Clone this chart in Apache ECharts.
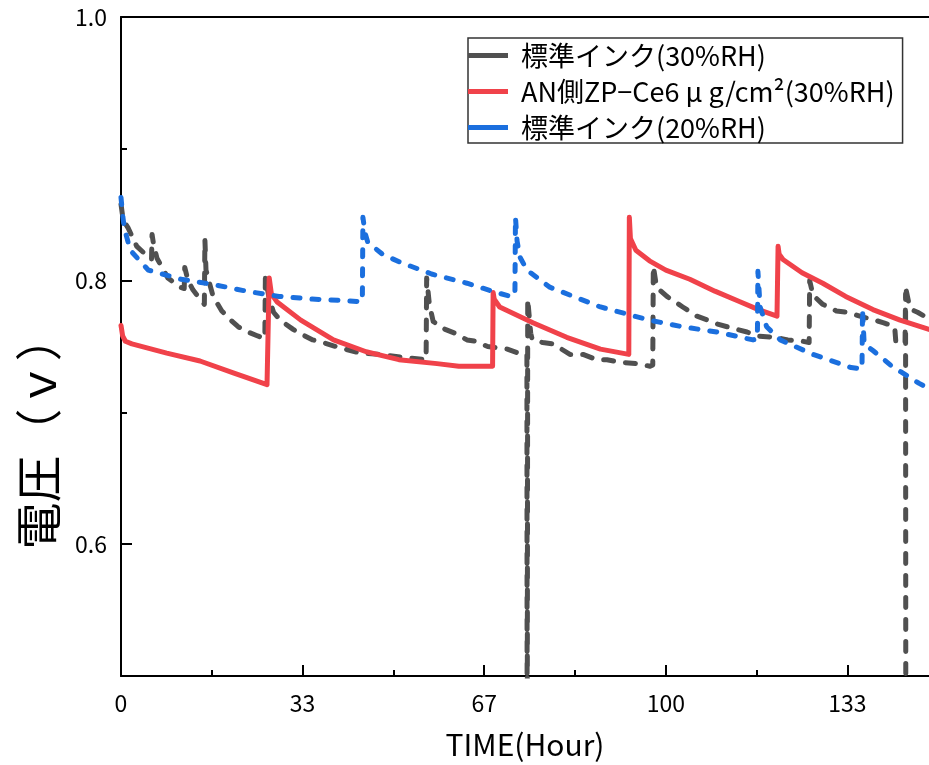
<!DOCTYPE html>
<html><head><meta charset="utf-8">
<script src="https://cdn.jsdelivr.net/npm/echarts@6/dist/echarts.min.js"></script>
<style>html,body{margin:0;padding:0;background:#fff}#c{width:929px;height:765px}</style>
</head><body><div id="c"></div>
<script>
const FONT = '"Noto Sans CJK JP", "Noto Sans", sans-serif';
const seriesNames = ['標準インク(30%RH)', 'AN側ZP−Ce6 μ g/cm²(30%RH)', '標準インク(20%RH)'];
const xTickValues = [0, 100/3, 200/3, 100, 400/3];
const xMinorTickValues = [50/3, 50, 250/3, 350/3];
const yTickValues = [0.6, 0.8, 1.0];
const yMinorTickValues = [0.7, 0.9];
const xTitle = 'TIME(Hour)';
const yTitle = '電圧（ｖ）';

// [hours, volts]
const grayData = [
 [0,0.858],[0.4,0.846],[1.3,0.840],[2.9,0.826],[5.0,0.818],[5.6,0.816],[5.7,0.835],[6.0,0.827],[6.6,0.817],
 [8.6,0.802],[10.8,0.795],[11.6,0.794],[11.7,0.810],[12.3,0.800],[13.2,0.793],[14.5,0.786],[15.3,0.782],
 [15.4,0.831],[15.6,0.808],[16.9,0.788],[18.5,0.777],[20.4,0.769],[21.5,0.765],[23.3,0.761],[25.1,0.758],
 [26.4,0.756],[26.5,0.803],[27.2,0.786],[28,0.776],[29.2,0.770],[31.6,0.763],[32.8,0.760],[35.2,0.755],
 [37.1,0.753],[40.2,0.749],[43.9,0.745],[47.5,0.744],[51.2,0.742],[56.0,0.740],[56.1,0.802],[56.6,0.782],
 [57.3,0.769],[59.5,0.763],[61.3,0.760],[63.5,0.755],[65.0,0.754],[67.3,0.750],[70.9,0.748],[73.6,0.744],
 [74.5,0.744],[74.55,0.40],[74.65,0.786],[75.2,0.760],[75.5,0.755],[77.4,0.753],[79.3,0.752],[82.4,0.744],
 [84.8,0.744],[87.3,0.740],[89.2,0.740],[91.6,0.738],[94.8,0.737],[97.1,0.735],[97.6,0.736],[97.7,0.811],
 [98.3,0.795],[100.2,0.788],[103.1,0.780],[105.7,0.773],[108.4,0.769],[109.5,0.767],[112.1,0.764],
 [114.9,0.761],[116.7,0.758],[120.0,0.757],[122.4,0.755],[125.1,0.754],[126.3,0.753],[126.4,0.800],
 [127.0,0.789],[128.8,0.782],[131.3,0.777],[133.3,0.776],[135.6,0.773],[137.5,0.771],[140.0,0.768],
 [142.0,0.765],[142.2,0.754],[143.9,0.752],[144.0,0.790],[144.05,0.40],[144.1,null],[144.15,0.792],
 [144.6,0.783],[145.1,0.778],[146.2,0.776],[148.3,0.771]
];
const redData = [
 [0,0.766],[0.3,0.758],[0.8,0.754],[2,0.752],[8.4,0.745],[14.5,0.739],[20.6,0.730],[26.8,0.721],[27.1,0.720],
 [27.2,0.802],[27.6,0.790],[28.6,0.784],[33,0.770],[39,0.755],[45,0.746],[51,0.740],[58,0.737],[62,0.735],
 [68.2,0.735],[68.3,0.791],[68.5,0.786],[69.5,0.780],[75.6,0.768],[81.8,0.757],[88,0.748],[93.2,0.744],
 [93.3,0.848],[93.5,0.832],[94.5,0.823],[97,0.815],[100,0.808],[104.4,0.801],[109,0.792],[113.6,0.784],
 [117,0.778],[120.4,0.773],[120.6,0.826],[120.8,0.820],[121.5,0.816],[125,0.806],[128.8,0.798],[133,0.788],
 [138,0.778],[143,0.770],[148.3,0.763]
];
const blueData = [
 [0,0.863],[0.3,0.850],[0.6,0.840],[1.7,0.823],[5,0.808],[11,0.801],[17,0.797],[23,0.792],[29,0.788],
 [35,0.786],[40,0.785],[44.2,0.784],[44.3,0.786],[44.4,0.848],[44.8,0.836],[45.3,0.829],[48,0.820],
 [51.2,0.814],[57,0.805],[63.5,0.798],[68.9,0.791],[71.5,0.788],[72.3,0.789],[72.4,0.848],[72.7,0.830],
 [73.2,0.818],[74.5,0.808],[78.7,0.795],[88,0.780],[97,0.770],[103,0.765],[109.4,0.761],[116.0,0.755],
 [116.8,0.756],[116.9,0.807],[117.3,0.780],[118.5,0.765],[121,0.755],[127,0.744],[134,0.734],[136.0,0.733],
 [136.1,0.778],[136.4,0.752],[138,0.747],[141.5,0.735],[146.5,0.722],[148.3,0.718]
];

const X_MAX = 148.3;
const chart = echarts.init(document.getElementById('c'), null, {renderer: 'canvas'});
const axisCommon = {type: 'value', min: 0, max: X_MAX, splitLine: {show: false}};
chart.setOption({
  animation: false,
  backgroundColor: '#fff',
  grid: {left: 121, right: 0, top: 17, bottom: 88, containLabel: false},
  textStyle: {fontFamily: FONT},
  legend: {
    orient: 'vertical', left: 468, top: 38,
    padding: [4, 8, 2, 0], itemGap: 9, itemWidth: 40, itemHeight: 5,
    icon: 'rect',
    borderColor: '#333', borderWidth: 1.5,
    textStyle: {fontFamily: FONT, fontSize: 27, color: '#000', padding: [0, 0, 0, 8]},
    data: seriesNames
  },
  xAxis: [
    Object.assign({}, axisCommon, {
      position: 'bottom',
      axisLine: {lineStyle: {color: '#000', width: 2}},
      axisTick: {inside: true, length: 11, lineStyle: {color: '#000', width: 2}, customValues: xTickValues},
      axisLabel: {customValues: xTickValues, formatter: v => String(Math.round(v)), margin: 16,
                  fontSize: 23, color: '#000', fontFamily: FONT},
      name: xTitle, nameLocation: 'middle', nameGap: 54,
      nameTextStyle: {fontSize: 30, color: '#000', fontFamily: FONT}
    }),
    Object.assign({}, axisCommon, {
      position: 'bottom',
      axisLine: {show: false},
      axisTick: {inside: true, length: 6, lineStyle: {color: '#000', width: 2}, customValues: xMinorTickValues},
      axisLabel: {show: false}
    }),
    Object.assign({}, axisCommon, {
      position: 'top',
      axisLine: {lineStyle: {color: '#000', width: 2}},
      axisTick: {show: false}, axisLabel: {show: false}
    })
  ],
  yAxis: [
    {
      type: 'value', min: 0.5, max: 1.0, position: 'left', splitLine: {show: false},
      axisLine: {show: true, lineStyle: {color: '#000', width: 2}},
      axisTick: {show: true, inside: true, length: 11, lineStyle: {color: '#000', width: 2}, customValues: yTickValues},
      axisLabel: {customValues: yTickValues, formatter: v => v.toFixed(1), margin: 14,
                  fontSize: 23, color: '#000', fontFamily: FONT}
    },
    {
      type: 'value', min: 0.5, max: 1.0, position: 'left', splitLine: {show: false},
      axisLine: {show: false},
      axisTick: {show: true, inside: true, length: 6, lineStyle: {color: '#000', width: 2}, customValues: yMinorTickValues},
      axisLabel: {show: false}
    }
  ],
  graphic: [{
    type: 'text', x: 38, y: 432, rotation: Math.PI / 2,
    style: {text: yTitle, fontSize: 47, fontFamily: FONT, fill: '#000', align: 'center', verticalAlign: 'middle'}
  }],
  series: [
    {name: seriesNames[0], type: 'line', data: grayData, symbol: 'none', showSymbol: false, connectNulls: false,
     lineStyle: {color: '#505050', width: 5, type: [10, 12], cap: 'round', join: 'round'}, itemStyle: {color: '#505050'}},
    {name: seriesNames[1], type: 'line', data: redData, symbol: 'none', showSymbol: false,
     lineStyle: {color: '#f0424a', width: 5, type: 'solid', join: 'round', cap: 'round'}, itemStyle: {color: '#f0424a'}},
    {name: seriesNames[2], type: 'line', data: blueData, symbol: 'none', showSymbol: false,
     lineStyle: {color: '#1b6fde', width: 5, type: [7, 12], cap: 'round', join: 'round'}, itemStyle: {color: '#1b6fde'}}
  ]
});
</script></body></html>
